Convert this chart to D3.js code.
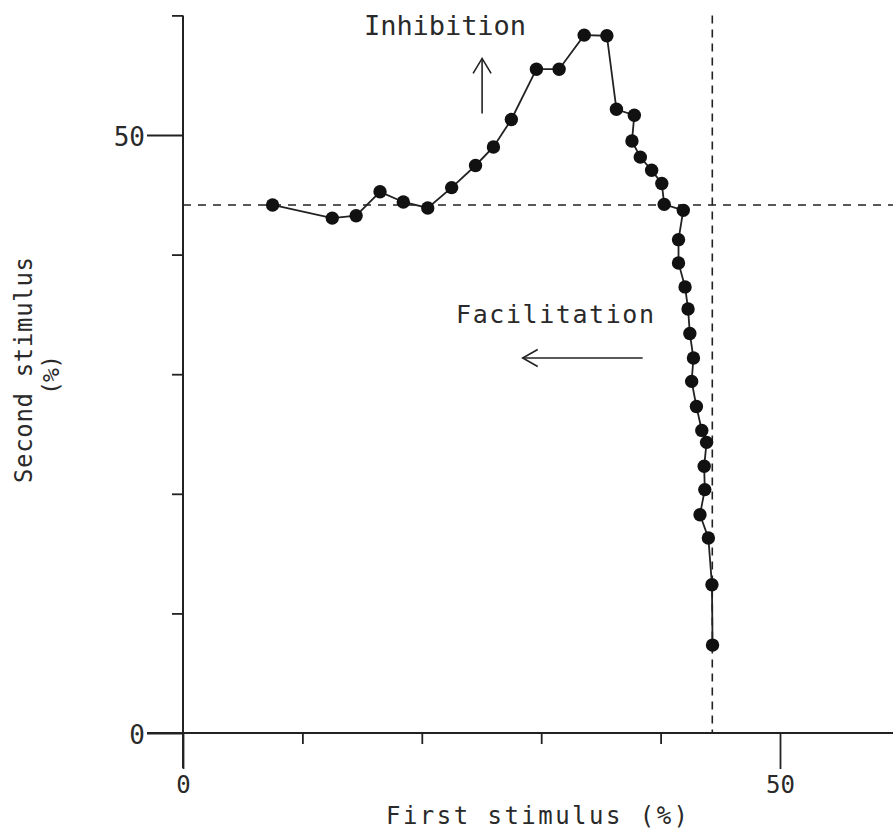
<!DOCTYPE html>
<html>
<head>
<meta charset="utf-8">
<script src="https://cdn.jsdelivr.net/npm/d3@7"></script>
<style>
  html, body { margin: 0; padding: 0; background: #fff; }
  svg { display: block; }
  text { font-family: "DejaVu Sans Mono", monospace; fill: #2a2a2a; }
</style>
</head>
<body>
<svg id="chart" width="893" height="831"></svg>
<script>
// Paired-stimulus response curve: first stimulus (%) vs second stimulus (%)
const firstStimulus = [
  7.5, 12.5, 14.5, 16.5, 18.45, 20.5, 22.5, 24.5, 26.0, 27.5,
  29.6, 31.5, 33.6, 35.5, 36.3, 37.8, 37.6, 38.3, 39.25, 40.1,
  40.3, 41.9, 41.5, 41.5, 42.05, 42.3, 42.45, 42.75, 42.6, 43.0,
  43.45, 43.85, 43.65, 43.7, 43.3, 44.0, 44.3, 44.35
];
const secondStimulus = [
  44.15, 43.05, 43.25, 45.25, 44.4, 43.9, 45.6, 47.45, 49.0, 51.3,
  55.5, 55.5, 58.35, 58.3, 52.15, 51.65, 49.5, 48.15, 47.05, 45.95,
  44.2, 43.7, 41.25, 39.3, 37.3, 35.45, 33.4, 31.35, 29.4, 27.3,
  25.3, 24.3, 22.3, 20.35, 18.25, 16.3, 12.4, 7.35
];

// Reference levels (single-stimulus responses)
const refFirst = 44.33;
const refSecond = 44.15;

const xMajorTicks = [0, 50];
const xMinorTicks = [10, 20, 30, 40];
const yMajorTicks = [0, 50];
const yMinorTicks = [10, 20, 30, 40, 60];

const xTitle = "First stimulus (%)";
const yTitle = ["Second stimulus", "(%)"];

const points = firstStimulus.map((v, i) => ({ x: v, y: secondStimulus[i] }));

const W = 893, H = 831;
const svg = d3.select("#chart");
const ink = "#222";
const fontFamily = "'DejaVu Sans Mono', monospace";

const x = d3.scaleLinear().domain([0, 60]).range([183, 899.4]);
const y = d3.scaleLinear().domain([0, 60]).range([733, 15.4]);

// Dashed reference lines
svg.append("line")
  .attr("x1", x(0)).attr("x2", W)
  .attr("y1", y(refSecond)).attr("y2", y(refSecond))
  .attr("stroke", ink).attr("stroke-width", 1.6)
  .attr("stroke-dasharray", "8,7");
svg.append("line")
  .attr("x1", x(refFirst)).attr("x2", x(refFirst))
  .attr("y1", y(60)).attr("y2", y(0))
  .attr("stroke", ink).attr("stroke-width", 1.6)
  .attr("stroke-dasharray", "8,6");

// Axes
const yAxisG = svg.append("g").attr("transform", `translate(${x(0)},0)`);
yAxisG.call(d3.axisLeft(y).tickValues(yMajorTicks).tickSize(36).tickPadding(2)
  .tickFormat(d3.format("d")));
yAxisG.append("g").call(d3.axisLeft(y).tickValues(yMinorTicks).tickSize(11).tickFormat(""));

const xAxisG = svg.append("g").attr("transform", `translate(0,${y(0)})`);
xAxisG.call(d3.axisBottom(x).tickValues(xMajorTicks).tickSize(36).tickPadding(7)
  .tickFormat(d3.format("d")));
xAxisG.append("g").call(d3.axisBottom(x).tickValues(xMinorTicks).tickSize(11).tickFormat(""));

svg.selectAll(".domain").remove();
svg.selectAll(".tick line").attr("stroke", ink).attr("stroke-width", 1.8);
yAxisG.selectAll(".tick text").attr("font-size", 26).attr("dy", "0.42em")
  .attr("fill", "#2a2a2a").style("font-family", fontFamily);
xAxisG.selectAll(".tick text").attr("font-size", 24)
  .attr("fill", "#2a2a2a").style("font-family", fontFamily);

// Axis lines
svg.append("line")
  .attr("x1", x(0)).attr("x2", x(0))
  .attr("y1", y(60)).attr("y2", y(0) + 35)
  .attr("stroke", ink).attr("stroke-width", 2);
svg.append("line")
  .attr("x1", x(0) - 36).attr("x2", W)
  .attr("y1", y(0)).attr("y2", y(0))
  .attr("stroke", ink).attr("stroke-width", 2);

// Data curve
const line = d3.line().x(d => x(d.x)).y(d => y(d.y));
svg.append("path")
  .datum(points)
  .attr("d", line)
  .attr("fill", "none")
  .attr("stroke", ink)
  .attr("stroke-width", 1.8);

svg.append("g").selectAll("circle")
  .data(points)
  .join("circle")
  .attr("cx", d => x(d.x))
  .attr("cy", d => y(d.y))
  .attr("r", 6.7)
  .attr("fill", "#111");

// Annotations with arrows
const arrowStroke = 1.6;
// Inhibition: upward arrow
const upX = 25.05, upY0 = 51.8, upY1 = 56.4;
svg.append("line")
  .attr("x1", x(upX)).attr("x2", x(upX))
  .attr("y1", y(upY0)).attr("y2", y(upY1))
  .attr("stroke", ink).attr("stroke-width", arrowStroke);
svg.append("path")
  .attr("d", `M${x(upX) - 9},${y(upY1) + 15} L${x(upX)},${y(upY1)} L${x(upX) + 9},${y(upY1) + 15}`)
  .attr("fill", "none").attr("stroke", ink).attr("stroke-width", arrowStroke);
svg.append("text")
  .attr("x", 364).attr("y", 35)
  .attr("font-size", 27)
  .attr("textLength", 162).attr("lengthAdjust", "spacing")
  .text("Inhibition");

// Facilitation: leftward arrow
const leftY = 31.35, leftX0 = 38.5, leftX1 = 28.45;
svg.append("line")
  .attr("x1", x(leftX0)).attr("x2", x(leftX1))
  .attr("y1", y(leftY)).attr("y2", y(leftY))
  .attr("stroke", ink).attr("stroke-width", arrowStroke);
svg.append("path")
  .attr("d", `M${x(leftX1) + 15},${y(leftY) - 8.5} L${x(leftX1)},${y(leftY)} L${x(leftX1) + 15},${y(leftY) + 8.5}`)
  .attr("fill", "none").attr("stroke", ink).attr("stroke-width", arrowStroke);
svg.append("text")
  .attr("x", 456).attr("y", 323)
  .attr("font-size", 25)
  .attr("textLength", 198).attr("lengthAdjust", "spacing")
  .text("Facilitation");

// Axis titles
svg.append("text")
  .attr("x", 537).attr("y", 824)
  .attr("text-anchor", "middle")
  .attr("font-size", 24)
  .attr("textLength", 302).attr("lengthAdjust", "spacing")
  .text(xTitle);

svg.append("text")
  .attr("transform", "translate(32,370) rotate(-90)")
  .attr("text-anchor", "middle")
  .attr("font-size", 24)
  .attr("textLength", 226).attr("lengthAdjust", "spacing")
  .text(yTitle[0]);
svg.append("text")
  .attr("transform", "translate(59,375) rotate(-90)")
  .attr("text-anchor", "middle")
  .attr("font-size", 23)
  .attr("textLength", 40).attr("lengthAdjust", "spacing")
  .text(yTitle[1]);
</script>
</body>
</html>
